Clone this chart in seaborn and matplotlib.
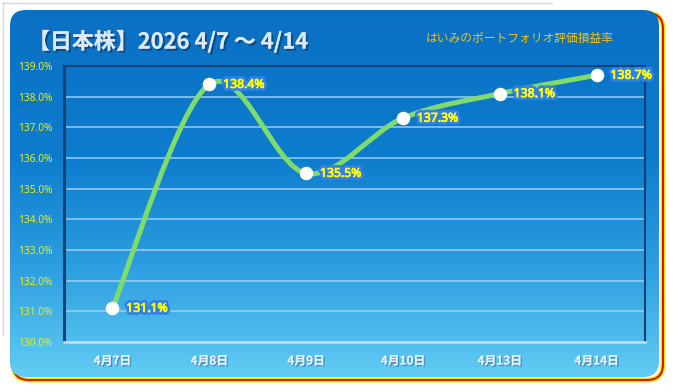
import numpy as np
import pandas as pd
import seaborn as sns
import matplotlib
matplotlib.use("Agg")
import matplotlib.pyplot as plt
import matplotlib.patheffects as pe
from matplotlib.patches import FancyBboxPatch, PathPatch
from matplotlib.path import Path
from matplotlib.colors import LinearSegmentedColormap

# data
dates = ["4月7日", "4月8日", "4月9日", "4月10日", "4月13日", "4月14日"]
rates = [131.1, 138.4, 135.5, 137.3, 138.1, 138.7]
y_ticks = [130, 131, 132, 133, 134, 135, 136, 137, 138, 139]
title = "【日本株】2026 4/7 ～ 4/14"
subtitle = "はいみのポートフォリオ評価損益率"

df = pd.DataFrame({"date": dates, "rate": rates})
df["pos"] = range(len(df))

sns.set_theme(style="white")
plt.rcParams["font.family"] = ["Noto Sans CJK JP", "DejaVu Sans"]

W, H = 674, 392
fig = plt.figure(figsize=(W / 100, H / 100), dpi=100)
fig.patch.set_facecolor("white")

# background panel (pixel coords)
bg = fig.add_axes([0, 0, 1, 1])
bg.set_xlim(0, W)
bg.set_ylim(H, 0)
bg.axis("off")

# faint outer frame
bg.plot([2, 552], [2.5, 2.5], color="#d8d8d8", lw=1)
bg.plot([2.5, 2.5], [2, 335], color="#d8d8d8", lw=1)

# yellow / red offset shadow
bg.add_patch(FancyBboxPatch((13, 13), 650, 367, boxstyle="round,pad=0,rounding_size=16",
                            fc="none", ec="#f4f000", lw=3.5, zorder=1))
bg.add_patch(FancyBboxPatch((13, 13), 650, 367, boxstyle="round,pad=0,rounding_size=16",
                            fc="none", ec="#e01010", lw=1.5, zorder=1))

panel = FancyBboxPatch((10, 10), 649, 367, boxstyle="round,pad=0,rounding_size=16",
                       fc="none", ec="none", zorder=2)
bg.add_patch(panel)
cmap = LinearSegmentedColormap.from_list(
    "panel", [(0, "#0a70c4"), (0.4, "#0e7ccd"), (0.7, "#2d9ee0"), (1, "#62ccf4")])
grad = np.linspace(0, 1, 256).reshape(-1, 1)
im = bg.imshow(grad, cmap=cmap, extent=(10, 659, 377, 10), aspect="auto", zorder=2)
im.set_clip_path(panel)

bg.text(28, 42, title, fontsize=15.8, fontweight="bold", color="#dce9f7", va="center", ha="left",
        zorder=5, path_effects=[pe.withSimplePatchShadow(offset=(1.5, -1.5), shadow_rgbFace="#0a3c70", alpha=0.7),
                                pe.Normal()])
bg.text(614, 38, subtitle, fontsize=8.5, color="#f2c21c", va="center", ha="right", zorder=5,
        fontstyle="italic")

# main plot
ax = fig.add_axes([64 / W, 1 - 342 / H, 581 / W, 276 / H])
ax.set_facecolor("none")
ax.set_zorder(3)

# smoothed line (Catmull-Rom bezier like the spreadsheet's smooth line)
pts = df[["pos", "rate"]].to_numpy(dtype=float)
ext = np.vstack([pts[0], pts, pts[-1]])
verts = [tuple(pts[0])]
codes = [Path.MOVETO]
for i in range(len(pts) - 1):
    p0, p1, p2, p3 = ext[i], ext[i + 1], ext[i + 2], ext[i + 3]
    c1 = p1 + (p2 - p0) / 6
    c2 = p2 - (p3 - p1) / 6
    verts += [tuple(c1), tuple(c2), tuple(p2)]
    codes += [Path.CURVE4] * 3
ax.add_patch(PathPatch(Path(verts, codes), fc="none", ec="#7edb6c", lw=3.6,
                       capstyle="round", zorder=4))

sns.scatterplot(data=df, x="pos", y="rate", ax=ax, s=95, color="white",
                edgecolor="white", linewidth=0, zorder=5, legend=False)

for _, r in df.iterrows():
    ax.annotate(f"{r['rate']:.1f}%", (r["pos"], r["rate"]), xytext=(10, 0),
                textcoords="offset points", va="center", ha="left", fontsize=8.8,
                fontweight="bold", color="#ffff00", family=["Noto Sans", "DejaVu Sans"], zorder=6,
                path_effects=[pe.withStroke(linewidth=4.5, foreground="#2f80ea"),
                              pe.withStroke(linewidth=0.6, foreground="#ffff00")])

ax.set_xlim(-0.5, len(dates) - 0.5)
ax.set_ylim(130, 139)
ax.set_yticks(y_ticks)
ax.set_yticklabels([f"{v:.1f}%" for v in y_ticks], color="#e6f020", fontsize=7.3,
                   fontweight="semibold", family=["Noto Sans", "DejaVu Sans"])
ax.set_xticks(range(len(dates)))
ax.set_xticklabels(dates, color="#e8f0f8", fontsize=8.5, fontweight="bold")
for t in ax.get_xticklabels():
    t.set_path_effects([pe.withSimplePatchShadow(offset=(1, -1), shadow_rgbFace="#2a6a9a", alpha=0.6),
                        pe.Normal()])
ax.set_xticks(np.arange(-0.5, len(dates), 1), minor=True)
ax.tick_params(axis="y", length=0, pad=8)
ax.tick_params(axis="x", which="major", length=0, pad=9)
ax.tick_params(axis="x", which="minor", length=4, direction="inout", color="#c8d4de", width=1)
ax.set_xlabel("")
ax.set_ylabel("")

ax.grid(axis="y", color="#a6d4f6", lw=1.2, alpha=0.85)
ax.set_axisbelow(True)
for side in ["left", "right", "top"]:
    ax.spines[side].set_visible(True)
    ax.spines[side].set_color("#0b4278")
ax.spines["left"].set_linewidth(2.2)
ax.spines["right"].set_linewidth(1.5)
ax.spines["top"].set_linewidth(1.5)
ax.spines["bottom"].set_color("#c8d6e2")
ax.spines["bottom"].set_linewidth(2)

fig.savefig("out.png", dpi=100)
